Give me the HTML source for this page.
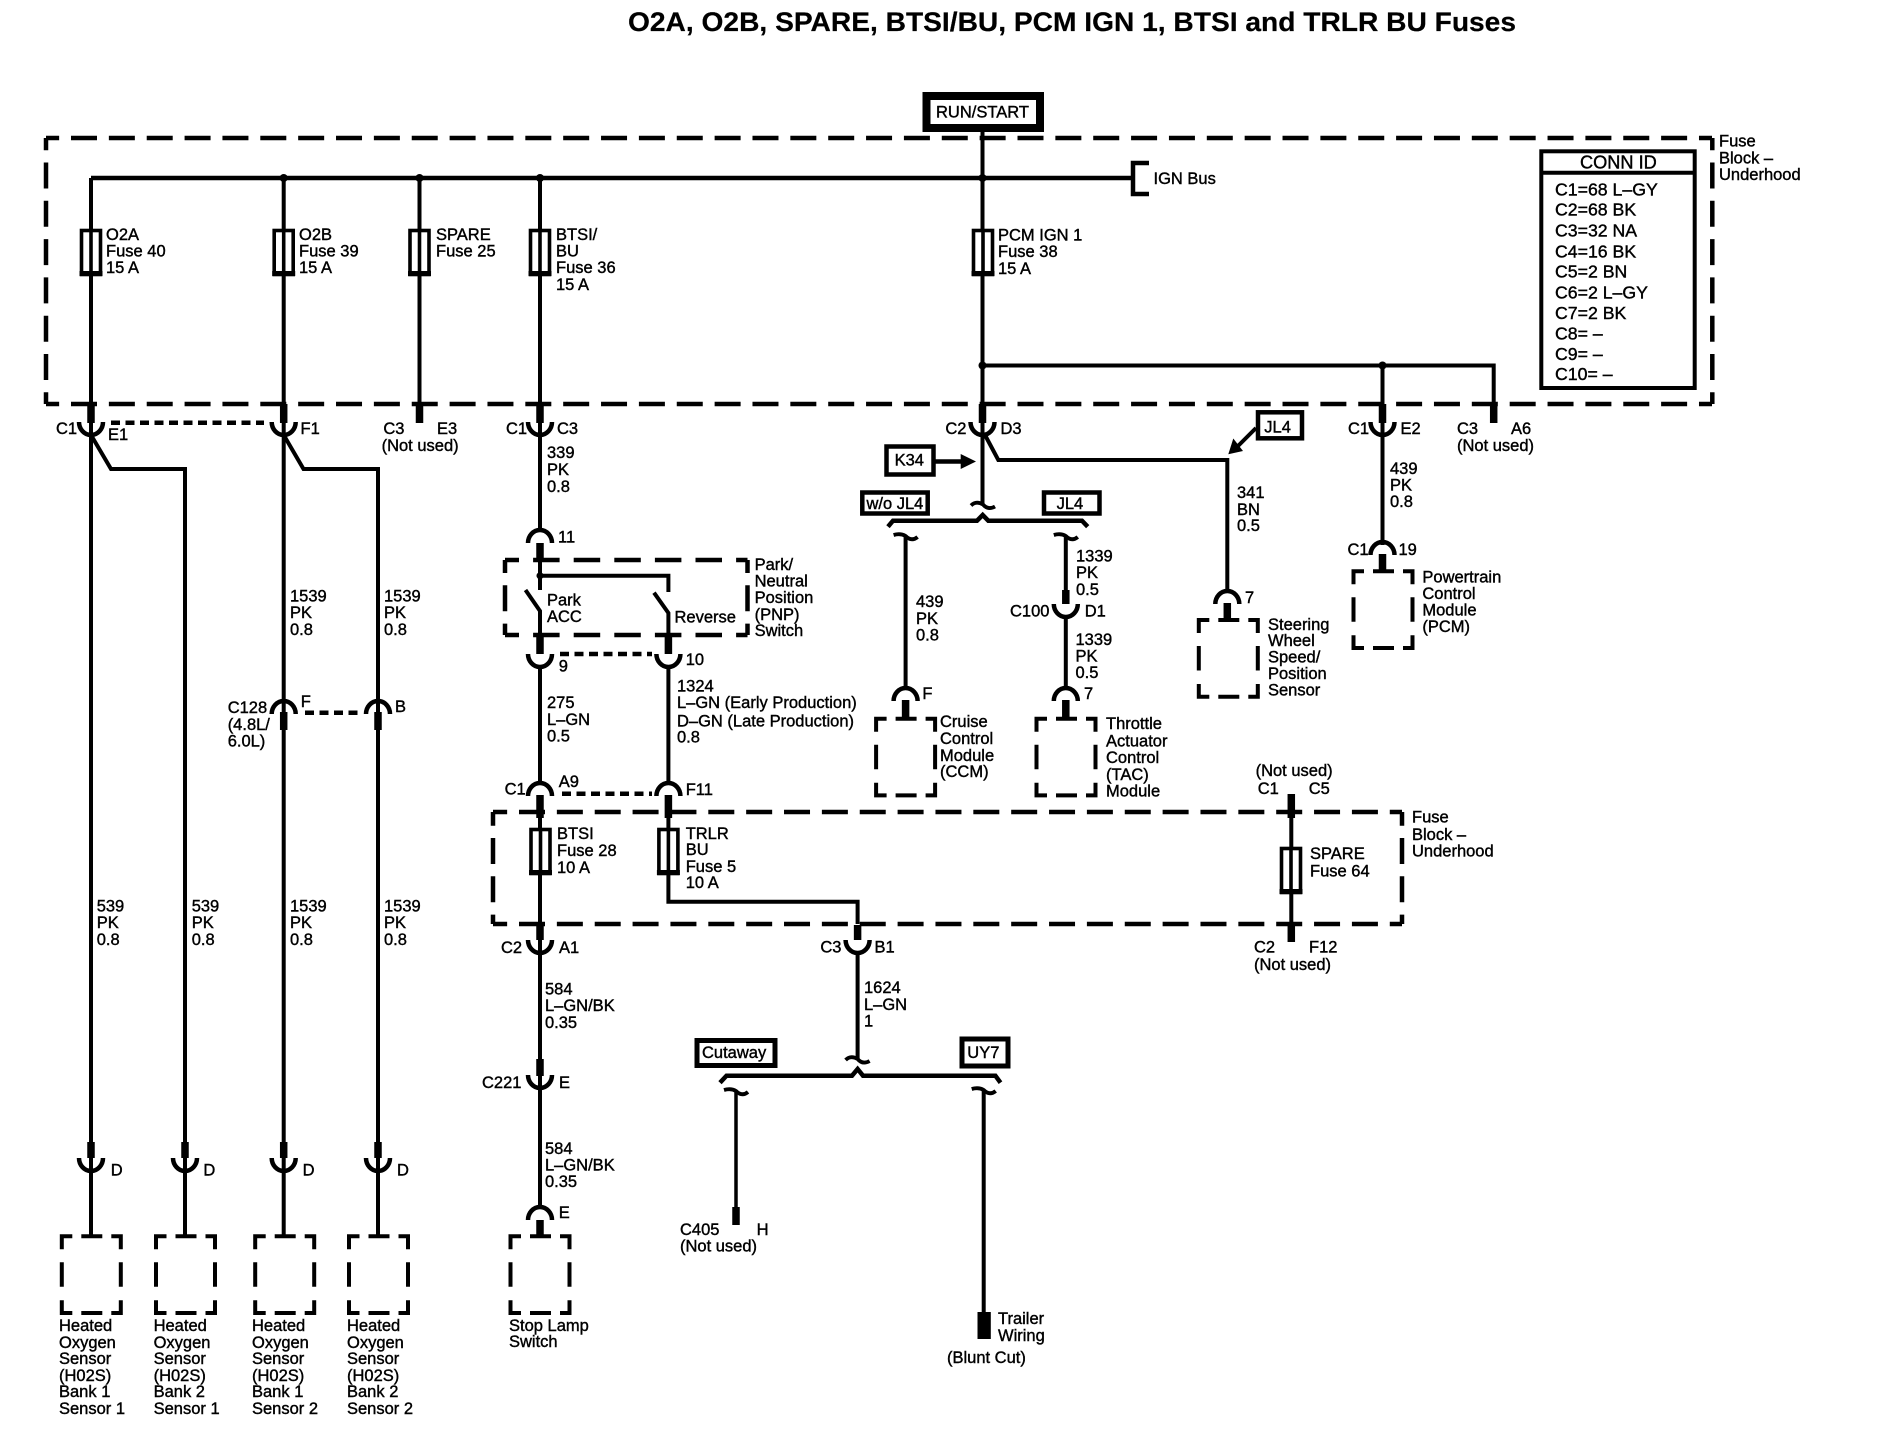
<!DOCTYPE html>
<html><head><meta charset="utf-8"><title>O2A, O2B, SPARE, BTSI/BU, PCM IGN 1, BTSI and TRLR BU Fuses</title>
<style>
html,body{margin:0;padding:0;background:#fff}
svg{display:block}
text{font-family:"Liberation Sans",sans-serif}
.t text{font-size:16.5px;fill:#000;stroke:#000;stroke-width:.4}
.t .c text{font-size:17.7px}
</style></head><body>
<svg width="1884" height="1456" viewBox="0 0 1884 1456" xmlns="http://www.w3.org/2000/svg">
<defs>
<path id="U" d="M-12,0A12,13 0 0 0 12,0" fill="none" stroke="#000" stroke-width="4.5"/>
<path id="N" d="M-12,0A12,13 0 0 1 12,0" fill="none" stroke="#000" stroke-width="4.5"/>
<g id="F"><rect x="-9.5" y="1.5" width="19" height="44" fill="#fff" stroke="#000" stroke-width="3.6"/><rect x="-11.5" y="42" width="23" height="5" fill="#000"/></g>
<path id="B" d="M-29.5,15V2H-19M-10,2H11M20,2H29.5V15M29.5,28V52.5M29.5,66V78.7H20M11,78.7H-10M-19,78.7H-29.5V66M-29.5,52.5V28" fill="none" stroke="#000" stroke-width="4"/>
<path id="TA" d="M-12,2Q-7,-3 0,1Q5,7 12,3" fill="none" stroke="#000" stroke-width="3.8"/>
<path id="TB" d="M-12,0Q-5,-2 0,1Q6,7 12,2" fill="none" stroke="#000" stroke-width="3.8"/>
</defs>
<rect width="1884" height="1456" fill="#fff"/>

<text x="628" y="31" font-size="26.5" font-weight="bold" stroke="#000" stroke-width=".2" textLength="888" lengthAdjust="spacingAndGlyphs">O2A, O2B, SPARE, BTSI/BU, PCM IGN 1, BTSI and TRLR BU Fuses</text>

<!-- dashed blocks -->
<g fill="none" stroke="#000" stroke-width="4.5">
<g stroke-dasharray="26 11.86" stroke-dashoffset="12.86"><path d="M46,138H1712"/><path d="M46,404H1712"/></g>
<g stroke-dasharray="26 12.3" stroke-dashoffset="13.8"><path d="M46,138V404"/><path d="M1712.3,138V404"/></g>
<g stroke-dasharray="26.5 14.1" stroke-dashoffset="12.5"><path d="M505,560H747.5"/><path d="M505,635H747.5"/></g>
<g stroke-dasharray="26 12.3" stroke-dashoffset="13"><path d="M505,560V635"/><path d="M747.5,560V635"/></g>
<g stroke-dasharray="26 11.86" stroke-dashoffset="11.86"><path d="M493,812H1402"/><path d="M493,924H1402"/></g>
<g stroke-dasharray="26 12.3" stroke-dashoffset="12.3"><path d="M493,812V924"/><path d="M1402,812V924"/></g>
</g>

<!-- wires -->
<g fill="none" stroke="#000" stroke-width="4">
<path d="M91,178V1235M283.7,178V1235M419.5,178V404M540,178V531M982.5,132V505"/>
<path d="M91,178H1132" stroke-width="4.5"/>
<path d="M1149,163H1133V194H1149" stroke-width="4.5"/>
<path d="M91,435L111,469H185V1235M283.7,435L303.5,469H378V1235"/>
<path d="M982.5,365.5H1493.7V404M1382.5,365.5V545"/>
<path d="M985,435L998.3,460H1227.3V592M1227.3,603V620"/>
<path d="M540,560V590M540,575.7H668.4V592M525.5,590L540,611V635M654,592.7L668.4,613V635"/>
<path d="M540,665V783M668.4,665V783M540,810V1207M668.4,810V901.7H857.6V924M857.6,953V1060"/>
<path d="M905.6,537V690M1065.8,537V592M1065.8,616V690"/>
<path d="M1291.3,812V940"/>
<path d="M736,1090V1208" stroke-width="3.5"/>
<path d="M983.7,1090V1315"/>
<!-- brackets -->
<path d="M888,526.7L893,520.7H977L982.7,515L988.3,520.7H1082L1087.7,526.7" stroke-width="4.5"/>
<path d="M720,1082.7L726.5,1075.7H852L857.6,1069L863,1075.7H995.4L1000.5,1082.7" stroke-width="4.5"/>
</g>

<!-- dotted links -->
<g fill="none" stroke="#000" stroke-width="4.5" stroke-dasharray="9 5.5">
<path d="M111,422.7H264"/><path d="M305,712.7H363"/><path d="M560,654H652"/><path d="M562,793.7H652"/>
</g>

<!-- junction dots -->
<g fill="#000"><circle cx="283.7" cy="178" r="4"/><circle cx="419.5" cy="178" r="4"/><circle cx="540" cy="178" r="4"/><circle cx="982.5" cy="178" r="4"/><circle cx="982.5" cy="365.5" r="4"/><circle cx="1382.5" cy="365.5" r="4"/><circle cx="540" cy="575.7" r="3.5"/></g>

<!-- thick stubs -->
<g fill="none" stroke="#000" stroke-width="7.5">
<path d="M91,404V423M283.7,404V423M419.5,404V423M540,404V423M982.5,404V423M1382.5,404V423M1493.7,404V423"/>
<path d="M91,1142V1158M185,1142V1158M283.7,1142V1158M378,1142V1158"/>
<path d="M283.7,712V730M378,712V730"/>
<path d="M540,543V560M540,635V654M668.4,635V654M540,795V818M668.4,795V818"/>
<path d="M540,925V940M857.6,925V940M1291.3,794V818M1291.3,925V942"/>
<path d="M540,1059V1076M540,1220V1236"/>
<path d="M905.6,700V718M1065.8,590V604M1065.8,700V718M1227.3,603V620M1382.5,554V571"/>
<path d="M736,1207V1225"/>
</g>
<rect x="977.5" y="1312" width="13.3" height="27" fill="#000"/>

<!-- connector cups -->
<use href="#U" x="91" y="422"/><use href="#U" x="283.7" y="422"/><use href="#U" x="540" y="422"/><use href="#U" x="982.5" y="422"/><use href="#U" x="1382.5" y="422"/>
<use href="#U" x="91" y="1158"/><use href="#U" x="185" y="1158"/><use href="#U" x="283.7" y="1158"/><use href="#U" x="378" y="1158"/>
<use href="#N" x="283.7" y="714"/><use href="#N" x="378" y="714"/>
<use href="#N" x="540" y="543"/><use href="#U" x="540" y="654"/><use href="#U" x="668.4" y="654"/>
<use href="#N" x="540" y="796"/><use href="#N" x="668.4" y="796"/>
<use href="#U" x="540" y="940"/><use href="#U" x="857.6" y="940"/>
<use href="#U" x="540" y="1075"/><use href="#N" x="540" y="1220"/>
<use href="#N" x="905.6" y="701"/><use href="#U" x="1065.8" y="604"/><use href="#N" x="1065.8" y="701"/>
<use href="#N" x="1227.3" y="604"/><use href="#N" x="1382.5" y="555"/>

<!-- break symbols -->
<use href="#TA" x="983" y="503.5"/><use href="#TB" x="905.6" y="535"/><use href="#TB" x="1065.8" y="535"/>
<use href="#TA" x="857.6" y="1058"/><use href="#TB" x="736" y="1090"/><use href="#TB" x="983.7" y="1089"/>

<!-- fuses -->
<use href="#F" x="91" y="229"/><use href="#F" x="283.7" y="229"/><use href="#F" x="419.5" y="229"/><use href="#F" x="540" y="229"/><use href="#F" x="983" y="229"/>
<use href="#F" x="540.5" y="828"/><use href="#F" x="668.4" y="828"/><use href="#F" x="1291" y="847"/>
<path d="M91,229V275M283.7,229V275M419.5,229V275M540,229V275M983,229V275M540.5,828V873M668.4,828V873M1291,847V892" stroke="#000" stroke-width="3.6" fill="none"/>

<!-- component boxes -->
<use href="#B" x="91.3" y="1234.3"/><use href="#B" x="185.5" y="1234.3"/><use href="#B" x="284.7" y="1234.3"/><use href="#B" x="378.5" y="1234.3"/><use href="#B" x="540" y="1234.3"/>
<use href="#B" x="905.6" y="716.7"/><use href="#B" x="1066" y="716.7"/><use href="#B" x="1228.3" y="618"/><use href="#B" x="1383" y="569.3"/>

<!-- label boxes -->
<g fill="#fff" stroke="#000">
<rect x="926.5" y="96" width="113.5" height="32" stroke-width="8"/>
<rect x="886.5" y="446.5" width="47" height="28" stroke-width="4.5"/>
<rect x="862.3" y="492.5" width="65.4" height="21" stroke-width="4.5"/>
<rect x="1044" y="492.5" width="55.5" height="21" stroke-width="4.5"/>
<rect x="1258" y="412.3" width="44" height="26" stroke-width="4.5"/>
<rect x="697" y="1040.5" width="78" height="25" stroke-width="5"/>
<rect x="962" y="1039" width="46" height="27" stroke-width="5"/>
<rect x="1541.3" y="151.3" width="153.4" height="236.7" stroke-width="4"/>
</g>
<path d="M1541.3,172.7H1694.7" stroke="#000" stroke-width="4"/>

<!-- arrows -->
<path d="M935,461.5H964" stroke="#000" stroke-width="4.5"/>
<path d="M960.7,454L976,461.5L960.7,469Z" fill="#000"/>
<path d="M1256,428L1236,448" stroke="#000" stroke-width="4"/>
<path d="M1228.3,454.3L1233.3,438.5L1243,451Z" fill="#000"/>

<!-- text -->
<g class="t">
<text x="936" y="117.5" textLength="93" lengthAdjust="spacingAndGlyphs">RUN/START</text>
<text x="1153.5" y="184">IGN Bus</text>
<text x="106" y="240">O2A</text><text x="106" y="256.6">Fuse 40</text><text x="106" y="273">15 A</text>
<text x="299" y="240">O2B</text><text x="299" y="256.6">Fuse 39</text><text x="299" y="273">15 A</text>
<text x="436" y="240">SPARE</text><text x="436" y="256.6">Fuse 25</text>
<text x="556" y="240">BTSI/</text><text x="556" y="256.6">BU</text><text x="556" y="273">Fuse 36</text><text x="556" y="290">15 A</text>
<text x="998" y="240.5">PCM IGN 1</text><text x="998" y="257">Fuse 38</text><text x="998" y="274">15 A</text>
<text x="1719" y="146.7">Fuse</text><text x="1719" y="163.3">Block –</text><text x="1719" y="180">Underhood</text>

<g class="c">
<text x="1580" y="168.3" style="font-size:18.2px">CONN ID</text>
<text x="1555" y="195.7">C1=68 L–GY</text><text x="1555" y="215.7">C2=68 BK</text><text x="1555" y="236.7">C3=32 NA</text><text x="1555" y="257.3">C4=16 BK</text><text x="1555" y="277.7">C5=2 BN</text><text x="1555" y="298.3">C6=2 L–GY</text><text x="1555" y="319">C7=2 BK</text><text x="1555" y="339.3">C8= –</text><text x="1555" y="360">C9= –</text><text x="1555" y="380">C10= –</text>
</g>

<text x="56" y="434">C1</text><text x="108" y="440">E1</text><text x="300.5" y="434">F1</text>
<text x="383.4" y="434">C3</text><text x="437" y="434">E3</text><text x="381.6" y="451">(Not used)</text>
<text x="506" y="434">C1</text><text x="557" y="434">C3</text>
<text x="945.4" y="434">C2</text><text x="1000.5" y="434">D3</text>
<text x="1348" y="434">C1</text><text x="1400.5" y="434">E2</text>
<text x="1457" y="434">C3</text><text x="1511" y="434">A6</text><text x="1457" y="451">(Not used)</text>

<text x="894.6" y="465.7">K34</text>
<text x="866.5" y="509">w/o JL4</text><text x="1056.6" y="509">JL4</text>
<text x="1264.3" y="432.3">JL4</text>

<text x="547" y="458">339</text><text x="547" y="475">PK</text><text x="547" y="492">0.8</text>
<text x="558" y="542.5">11</text>
<text x="547" y="605.7">Park</text><text x="547" y="622">ACC</text><text x="674.5" y="622.7">Reverse</text>
<text x="754.6" y="570">Park/</text><text x="754.6" y="586.7">Neutral</text><text x="754.6" y="603">Position</text><text x="754.6" y="620">(PNP)</text><text x="754.6" y="636">Switch</text>
<text x="558.7" y="671.5">9</text><text x="685.7" y="665">10</text>
<text x="547" y="708">275</text><text x="547" y="725">L–GN</text><text x="547" y="741.7">0.5</text>
<text x="677" y="691.7">1324</text><text x="677" y="708">L–GN (Early Production)</text><text x="677" y="726.7">D–GN (Late Production)</text><text x="677" y="742.7">0.8</text>
<text x="504.6" y="794.3">C1</text><text x="558.7" y="787">A9</text><text x="685.7" y="795">F11</text>
<text x="557" y="839">BTSI</text><text x="557" y="856">Fuse 28</text><text x="557" y="873">10 A</text>
<text x="685.7" y="839">TRLR</text><text x="685.7" y="855">BU</text><text x="685.7" y="872">Fuse 5</text><text x="685.7" y="888">10 A</text>
<text x="501" y="953">C2</text><text x="559" y="953">A1</text>
<text x="820.4" y="952.7">C3</text><text x="874.5" y="952.7">B1</text>
<text x="545" y="994.6">584</text><text x="545" y="1011">L–GN/BK</text><text x="545" y="1028">0.35</text>
<text x="482" y="1088">C221</text><text x="559" y="1088">E</text>
<text x="545" y="1154">584</text><text x="545" y="1170.7">L–GN/BK</text><text x="545" y="1187">0.35</text>
<text x="558.7" y="1218">E</text>
<text x="509" y="1331">Stop Lamp</text><text x="509" y="1347">Switch</text>

<text x="290" y="601.7">1539</text><text x="290" y="618">PK</text><text x="290" y="635">0.8</text>
<text x="384" y="601.7">1539</text><text x="384" y="618">PK</text><text x="384" y="635">0.8</text>
<text x="227.7" y="713">C128</text><text x="227.7" y="730">(4.8L/</text><text x="227.7" y="746.7">6.0L)</text>
<text x="300.7" y="707">F</text><text x="395" y="712">B</text>
<text x="96.7" y="911.7">539</text><text x="96.7" y="928">PK</text><text x="96.7" y="945">0.8</text>
<text x="191.7" y="911.7">539</text><text x="191.7" y="928">PK</text><text x="191.7" y="945">0.8</text>
<text x="290" y="911.7">1539</text><text x="290" y="928">PK</text><text x="290" y="945">0.8</text>
<text x="384" y="911.7">1539</text><text x="384" y="928">PK</text><text x="384" y="945">0.8</text>
<text x="110.7" y="1175.5">D</text><text x="203.4" y="1175.5">D</text><text x="302.6" y="1175.5">D</text><text x="397" y="1175.5">D</text>

<text x="59" y="1331">Heated</text><text x="59" y="1348">Oxygen</text><text x="59" y="1364">Sensor</text><text x="59" y="1381">(H02S)</text><text x="59" y="1397">Bank 1</text><text x="59" y="1414">Sensor 1</text>
<text x="153.6" y="1331">Heated</text><text x="153.6" y="1348">Oxygen</text><text x="153.6" y="1364">Sensor</text><text x="153.6" y="1381">(H02S)</text><text x="153.6" y="1397">Bank 2</text><text x="153.6" y="1414">Sensor 1</text>
<text x="252" y="1331">Heated</text><text x="252" y="1348">Oxygen</text><text x="252" y="1364">Sensor</text><text x="252" y="1381">(H02S)</text><text x="252" y="1397">Bank 1</text><text x="252" y="1414">Sensor 2</text>
<text x="347" y="1331">Heated</text><text x="347" y="1348">Oxygen</text><text x="347" y="1364">Sensor</text><text x="347" y="1381">(H02S)</text><text x="347" y="1397">Bank 2</text><text x="347" y="1414">Sensor 2</text>

<text x="916" y="607">439</text><text x="916" y="624">PK</text><text x="916" y="640.7">0.8</text>
<text x="922.4" y="699">F</text>
<text x="940" y="727">Cruise</text><text x="940" y="744">Control</text><text x="940" y="761">Module</text><text x="940" y="777">(CCM)</text>
<text x="1076" y="561.7">1339</text><text x="1076" y="578">PK</text><text x="1076" y="595">0.5</text>
<text x="1010" y="616.7">C100</text><text x="1084.7" y="616.7">D1</text>
<text x="1075.5" y="645">1339</text><text x="1075.5" y="661.7">PK</text><text x="1075.5" y="678">0.5</text>
<text x="1084" y="699">7</text>
<text x="1106" y="729">Throttle</text><text x="1106" y="746.7">Actuator</text><text x="1106" y="763">Control</text><text x="1106" y="780">(TAC)</text><text x="1106" y="796.7">Module</text>
<text x="1237" y="498">341</text><text x="1237" y="515">BN</text><text x="1237" y="531">0.5</text>
<text x="1245" y="603">7</text>
<text x="1268" y="630">Steering</text><text x="1268" y="646">Wheel</text><text x="1268" y="662.7">Speed/</text><text x="1268" y="679">Position</text><text x="1268" y="695.7">Sensor</text>
<text x="1390" y="474">439</text><text x="1390" y="490.7">PK</text><text x="1390" y="507">0.8</text>
<text x="1347.5" y="555">C1</text><text x="1398.5" y="555">19</text>
<text x="1422.4" y="582.7">Powertrain</text><text x="1422.4" y="599">Control</text><text x="1422.4" y="615.7">Module</text><text x="1422.4" y="632">(PCM)</text>

<text x="1255.6" y="776">(Not used)</text><text x="1257.7" y="794">C1</text><text x="1308.7" y="794">C5</text>
<text x="1310" y="859">SPARE</text><text x="1310" y="876.7">Fuse 64</text>
<text x="1412" y="822.7">Fuse</text><text x="1412" y="840">Block –</text><text x="1412" y="856.7">Underhood</text>
<text x="1254" y="952.7">C2</text><text x="1309" y="952.7">F12</text><text x="1254" y="970">(Not used)</text>

<text x="864" y="993">1624</text><text x="864" y="1010">L–GN</text><text x="864" y="1026.7">1</text>
<text x="702" y="1058">Cutaway</text><text x="967.3" y="1058">UY7</text>
<text x="680" y="1235">C405</text><text x="756.6" y="1235">H</text><text x="680" y="1251.7">(Not used)</text>
<text x="998" y="1324">Trailer</text><text x="998" y="1341">Wiring</text><text x="947" y="1363">(Blunt Cut)</text>
</g>
</svg>
</body></html>
